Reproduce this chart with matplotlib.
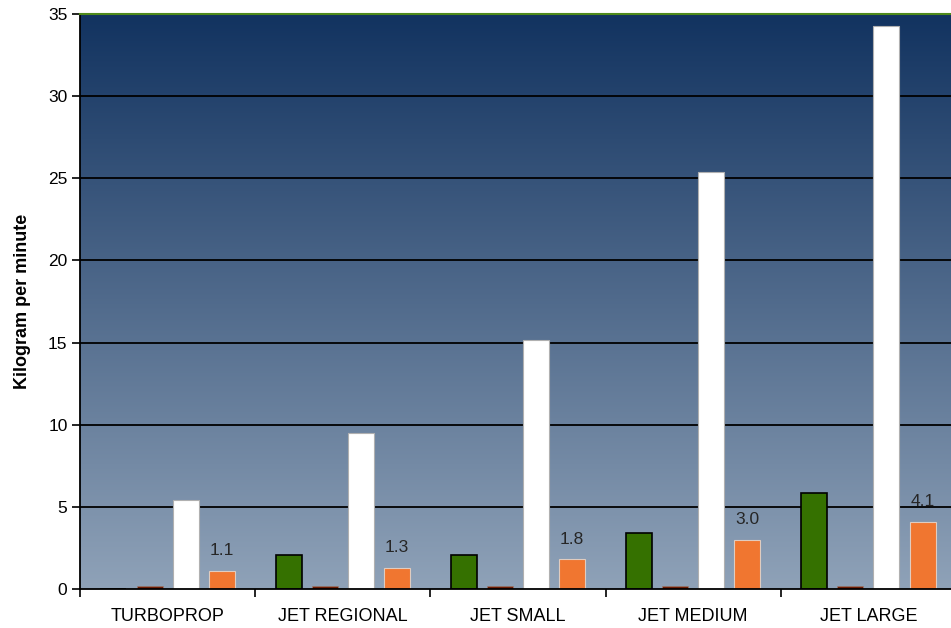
import matplotlib.pyplot as plt
import numpy as np

plt.rcParams['font.family'] = ['Liberation Sans', 'DejaVu Sans']

categories = ['TURBOPROP', 'JET REGIONAL', 'JET SMALL', 'JET MEDIUM', 'JET LARGE']
green_vals = [0.0, 2.1, 2.1, 3.4, 5.85]
red_vals = [0.2, 0.2, 0.2, 0.2, 0.2]
white_vals = [5.4, 9.5, 15.15, 25.4, 34.3]
orange_vals = [1.1, 1.3, 1.8, 3.0, 4.1]
orange_labels = ['1.1', '1.3', '1.8', '3.0', '4.1']

fig = plt.figure(figsize=(9.51, 6.28), dpi=100)
# plot area runs a little past the right edge of the figure
ax = fig.add_axes([80 / 951, 1 - 589 / 628, 876 / 951, 575 / 628])

x = np.arange(len(categories))
w = 0.148
step = 0.206
offs = np.array([-1.5, -0.5, 0.5, 1.5]) * step
x0, x1 = -0.5, len(categories) - 0.5

# vertical gradient background, dark navy at the top
top = np.array([18, 51, 96]) / 255
bot = np.array([143, 162, 184]) / 255
t = np.linspace(0, 1, 256)[:, None]
grad = (top * (1 - t) + bot * t)[:, None, :]
ax.imshow(grad, extent=[x0, x1, 0, 35], origin='upper', aspect='auto',
          zorder=0, interpolation='bilinear')
ax.set_xlim(x0, x1)
ax.set_ylim(0, 35)

for yv in range(5, 35, 5):
    ax.axhline(yv, color='black', lw=1.3, zorder=1)

ax.bar(x + offs[0], green_vals, w, color='#357100', edgecolor='black', lw=1.2, zorder=2)
ax.bar(x + offs[1], red_vals, w, color='#6e1c04', edgecolor='#a08070', lw=0.4, zorder=2)
ax.bar(x + offs[2], white_vals, w, color='white', edgecolor='#b0b0b0', lw=0.8, zorder=2)
bars = ax.bar(x + offs[3], orange_vals, w, color='#f07630', edgecolor='#e0ccc0', lw=0.8, zorder=2)

for b, lab in zip(bars, orange_labels):
    ax.annotate(lab, (b.get_x() + b.get_width() / 2, b.get_height()),
                xytext=(0, 9), textcoords='offset points',
                ha='center', va='bottom', fontsize=12.5, color='#262626', zorder=3)

ax.set_yticks(range(0, 36, 5))
ax.tick_params(axis='y', direction='out', length=6, width=1.2, labelsize=12.5, pad=3)
ax.set_xticks(np.arange(x0, x1 + 0.01, 1.0))
ax.set_xticklabels([])
ax.set_xticks(x, minor=True)
ax.set_xticklabels(categories, minor=True, fontsize=13)
ax.tick_params(axis='x', which='major', direction='out', length=6, width=1.2)
ax.tick_params(axis='x', which='minor', length=0, pad=14)

ax.spines['top'].set_color('#4f8a1a')
ax.spines['top'].set_linewidth(1.5)
ax.spines['right'].set_visible(False)
ax.spines['left'].set_linewidth(1.3)
ax.spines['bottom'].set_linewidth(1.3)

ax.set_ylabel('Kilogram per minute', fontsize=13, fontweight='bold', labelpad=12)

fig.savefig('out.png', dpi=100)
